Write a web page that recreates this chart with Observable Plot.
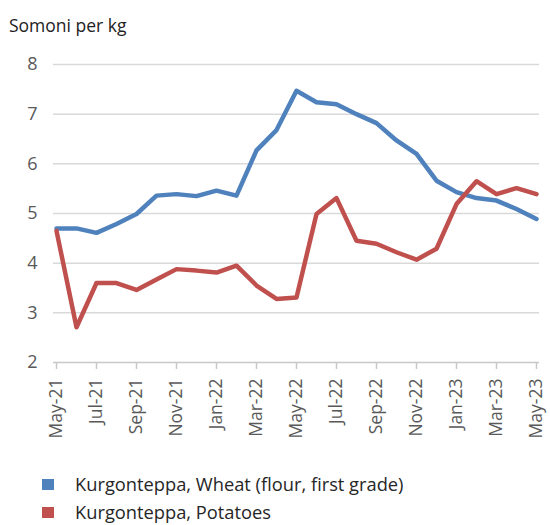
<!DOCTYPE html>
<html>
<head>
<meta charset="utf-8">
<script src="https://cdn.jsdelivr.net/npm/d3@7"></script>
<script src="https://cdn.jsdelivr.net/npm/@observablehq/plot@0.6"></script>
<style>
  html, body { margin: 0; padding: 0; background: #fff; }
  body { width: 550px; height: 525px; overflow: hidden; font-family: "Open Sans", sans-serif; color: #222; }
  #title { height: 36px; box-sizing: border-box; padding: 14px 0 0 9px; font-size: 17.5px; line-height: 22px; color: #222; }
  #legend { font-size: 18.3px; color: #262626; padding-top: 4px; }
  .row { display: flex; align-items: center; height: 28px; line-height: 24px; padding-left: 42px; }
  .sw { width: 12px; height: 11px; margin-right: 21px; flex: none; }
</style>
</head>
<body>
<div id="title">Somoni per kg</div>
<div id="chart"></div>
<div id="legend"></div>
<script>
const months = ["May-21","Jun-21","Jul-21","Aug-21","Sep-21","Oct-21","Nov-21","Dec-21","Jan-22","Feb-22","Mar-22","Apr-22","May-22","Jun-22","Jul-22","Aug-22","Sep-22","Oct-22","Nov-22","Dec-22","Jan-23","Feb-23","Mar-23","Apr-23","May-23"];
const wheat = [4.70,4.70,4.61,4.79,4.99,5.36,5.39,5.35,5.46,5.36,6.27,6.68,7.47,7.24,7.20,7.00,6.82,6.47,6.20,5.66,5.43,5.31,5.26,5.09,4.89];
const potatoes = [4.65,2.71,3.60,3.60,3.46,3.67,3.88,3.85,3.81,3.95,3.55,3.28,3.31,4.99,5.31,4.45,4.39,4.22,4.07,4.29,5.19,5.65,5.39,5.51,5.39];
const seriesNames = ["Kurgonteppa, Wheat (flour, first grade)", "Kurgonteppa, Potatoes"];
const seriesColors = ["#4f81bd", "#c0504d"];
const yTicks = [2,3,4,5,6,7,8];
const xTicks = months.filter((d, i) => i % 2 === 0);

const data = [];
months.forEach((m, i) => {
  data.push({month: m, value: wheat[i], series: seriesNames[0]});
  data.push({month: m, value: potatoes[i], series: seriesNames[1]});
});

const chart = Plot.plot({
  width: 550,
  height: 430,
  marginTop: 28,
  marginBottom: 104,
  marginLeft: 53,
  marginRight: 11,
  style: {fontFamily: "Open Sans, sans-serif", fontSize: "17px", color: "#595959", background: "#fff"},
  x: {type: "point", domain: months, padding: 0},
  y: {domain: [2, 8]},
  color: {domain: seriesNames, range: seriesColors},
  marks: [
    Plot.ruleY(yTicks.filter(d => d > 2), {stroke: "#d9d9d9", strokeWidth: 1.5}),
    Plot.ruleY([2], {stroke: "#c8c8c8", strokeWidth: 1.5}),
    Plot.axisY({ticks: yTicks, tickFormat: "d", tickSize: 0, tickPadding: 16, fontSize: 18, fill: "#595959", label: null}),
    Plot.axisX({ticks: xTicks, tickSize: 7, stroke: "#c8c8c8", strokeWidth: 1.5, text: null, label: null}),
    Plot.axisX({ticks: xTicks, tickSize: 0, tickPadding: 16, tickRotate: -90, fontSize: 17.5, fill: "#595959", label: null}),
    Plot.line(data, {x: "month", y: "value", stroke: "series", z: "series", strokeWidth: 4.5, strokeLinejoin: "round"})
  ]
});
document.getElementById("chart").appendChild(chart);

const legend = document.getElementById("legend");
seriesNames.forEach((name, i) => {
  const row = document.createElement("div");
  row.className = "row";
  const sw = document.createElement("div");
  sw.className = "sw";
  sw.style.background = seriesColors[i];
  const label = document.createElement("span");
  label.textContent = name;
  row.appendChild(sw);
  row.appendChild(label);
  legend.appendChild(row);
});
</script>
</body>
</html>
